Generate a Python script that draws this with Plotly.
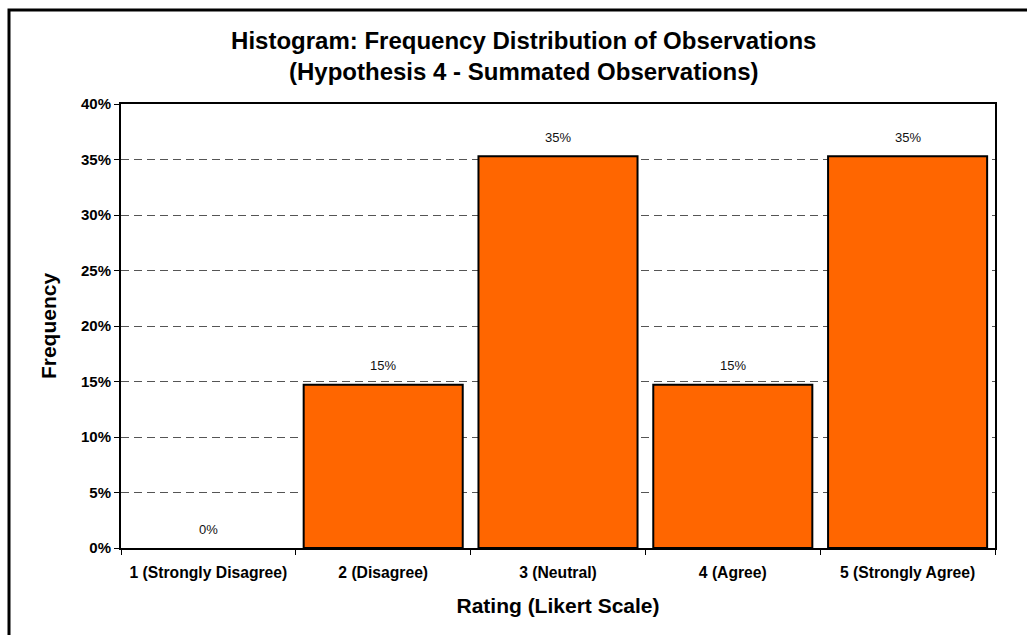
import plotly.graph_objects as go

# Likert ratings and the share of observations for each
categories = ["1 (Strongly Disagree)", "2 (Disagree)", "3 (Neutral)", "4 (Agree)", "5 (Strongly Agree)"]
frequency = [0.0, 0.147, 0.353, 0.147, 0.353]
y_ticks = [0, 0.05, 0.10, 0.15, 0.20, 0.25, 0.30, 0.35, 0.40]

FONT = "Arial, Liberation Sans, Helvetica, sans-serif"

fig = go.Figure()
fig.add_trace(go.Bar(
    x=categories,
    y=frequency,
    marker=dict(
        color="#FF6600",
        # no outline on an empty bar so it does not thicken the axis
        line=dict(color="black", width=[2 if v > 0 else 0 for v in frequency]),
    ),
    hoverinfo="x+y",
))

# value labels above each bar
for cat, val in zip(categories, frequency):
    fig.add_annotation(
        x=cat, y=val, text=f"{val:.0%}", showarrow=False,
        yanchor="middle", yshift=19,
        font=dict(family=FONT, size=13, color="#111111"),
    )

# outer chart frame
L, R, T, B = 121, 995, 104, 548
W, H = R - L, B - T
fig.add_shape(
    type="rect", xref="paper", yref="paper",
    x0=(9 - L) / W, x1=(1040 - L) / W,
    y0=(B - 650) / H, y1=(B - 10) / H,
    line=dict(color="black", width=3), fillcolor="rgba(0,0,0,0)",
    layer="above",
)

fig.update_layout(
    width=1027, height=635,
    margin=dict(l=L, r=1027 - R, t=T, b=635 - B),
    paper_bgcolor="white", plot_bgcolor="white",
    bargap=0.09,
    showlegend=False,
    font=dict(family=FONT, color="black"),
    title=dict(
        text="Histogram: Frequency Distribution of Observations<br>(Hypothesis 4 - Summated Observations)",
        x=0.51, xref="container", xanchor="center",
        y=1 - 49 / 635, yref="container", yanchor="top",
        font=dict(family=FONT, size=24, color="black", weight="bold"),
    ),
    xaxis=dict(
        type="category",
        showline=True, linecolor="black", linewidth=2, mirror=True,
        ticks="outside", tickson="boundaries", ticklen=5, tickcolor="black", tickwidth=1,
        ticklabelstandoff=9,
        tickfont=dict(family=FONT, size=15.7, color="black", weight="bold"),
        title=dict(text="Rating (Likert Scale)",
                   font=dict(family=FONT, size=21, color="black", weight="bold"), standoff=18),
        showgrid=False,
    ),
    yaxis=dict(
        range=[0, 0.40],
        tickvals=y_ticks,
        tickformat=".0%",
        showline=True, linecolor="black", linewidth=2, mirror=True,
        ticks="outside", ticklen=5, tickcolor="black", tickwidth=1,
        tickfont=dict(family=FONT, size=15, color="black", weight="bold"),
        showgrid=True, gridcolor="#555555", gridwidth=1, griddash="8px,5px",
        zeroline=False,
        title=dict(text="Frequency",
                   font=dict(family=FONT, size=21, color="black", weight="bold"), standoff=19),
    ),
)

fig.write_html("out.html")
